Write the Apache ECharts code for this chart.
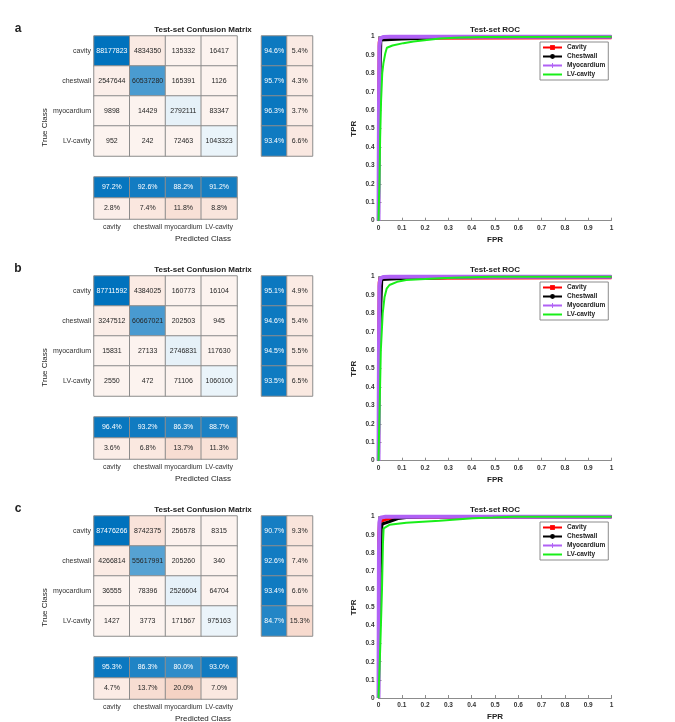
<!DOCTYPE html>
<html><head><meta charset="utf-8">
<script src="https://cdn.jsdelivr.net/npm/echarts@6/dist/echarts.min.js"></script>
<style>html,body{margin:0;padding:0;background:#fff}#c{width:675px;height:722px}</style>
</head><body><div id="c"></div>
<script>
// ---------- data ----------
const classNames = ['cavity', 'chestwall', 'myocardium', 'LV-cavity'];
const rocNames = ['Cavity', 'Chestwall', 'Myocardium', 'LV-cavity'];
const panelLetters = ['a', 'b', 'c'];
const summaryCols = ['correct', 'wrong'];

const cmA = [[88177823, 4834350, 135332, 16417], [2547644, 60537280, 165391, 1126], [9898, 14429, 2792111, 83347], [952, 242, 72463, 1043323]];
const rowCorrectA = [94.6, 95.7, 96.3, 93.4];
const rowWrongA = [5.4, 4.3, 3.7, 6.6];
const colCorrectA = [97.2, 92.6, 88.2, 91.2];
const colWrongA = [2.8, 7.4, 11.8, 8.8];

const cmB = [[87711592, 4384025, 160773, 16104], [3247512, 60667021, 202503, 945], [15831, 27133, 2746831, 117630], [2550, 472, 71106, 1060100]];
const rowCorrectB = [95.1, 94.6, 94.5, 93.5];
const rowWrongB = [4.9, 5.4, 5.5, 6.5];
const colCorrectB = [96.4, 93.2, 86.3, 88.7];
const colWrongB = [3.6, 6.8, 13.7, 11.3];

const cmC = [[87476266, 8742375, 256578, 8315], [4266814, 55617991, 205260, 340], [36555, 78396, 2526604, 64704], [1427, 3773, 171567, 975163]];
const rowCorrectC = [90.7, 92.6, 93.4, 84.7];
const rowWrongC = [9.3, 7.4, 6.6, 15.3];
const colCorrectC = [95.3, 86.3, 80.0, 93.0];
const colWrongC = [4.7, 13.7, 20.0, 7.0];

// ROC curves [FPR, TPR]
const rocA_cavity = [[0, 0], [0.001, 0.7], [0.003, 0.97], [0.006, 0.99], [0.1, 0.992], [1, 0.994]];
const rocA_chestwall = [[0, 0], [0.003, 0.6], [0.01, 0.982], [0.1, 0.987], [0.2, 0.992], [0.26, 0.997], [0.4, 1], [1, 1]];
const rocA_myocardium = [[0, 0], [0.002, 0.6], [0.004, 0.95], [0.008, 0.99], [0.02, 0.998], [0.05, 1], [1, 1]];
const rocA_lv = [[0, 0], [0.004, 0.2], [0.007, 0.45], [0.011, 0.65], [0.016, 0.8], [0.021, 0.855], [0.029, 0.909], [0.036, 0.94], [0.06, 0.952], [0.107, 0.965], [0.15, 0.974], [0.207, 0.982], [0.264, 0.99], [0.35, 0.995], [0.45, 0.999], [1, 1]];

const rocB_cavity = [[0, 0], [0.001, 0.7], [0.003, 0.97], [0.006, 0.99], [0.1, 0.992], [1, 0.994]];
const rocB_chestwall = [[0, 0], [0.003, 0.6], [0.014, 0.985], [0.1, 0.99], [0.3, 0.996], [0.5, 1], [1, 1]];
const rocB_myocardium = [[0, 0], [0.002, 0.6], [0.004, 0.95], [0.008, 0.99], [0.02, 0.998], [0.05, 1], [1, 1]];
const rocB_lv = [[0, 0], [0.005, 0.3], [0.01, 0.6], [0.018, 0.8], [0.026, 0.89], [0.035, 0.935], [0.047, 0.955], [0.08, 0.972], [0.119, 0.982], [0.2, 0.987], [0.262, 0.991], [0.35, 0.995], [0.49, 1], [1, 1]];

const rocC_cavity = [[0, 0], [0.001, 0.9], [0.004, 0.97], [0.03, 0.985], [0.08, 0.996], [1, 0.998]];
const rocC_chestwall = [[0, 0], [0.004, 0.5], [0.012, 0.93], [0.016, 0.96], [0.047, 0.973], [0.083, 0.99], [0.119, 0.996], [0.2, 1], [1, 1]];
const rocC_myocardium = [[0, 0], [0.002, 0.8], [0.004, 0.97], [0.008, 0.995], [0.03, 1], [1, 1]];
const rocC_lv = [[0, 0], [0.008, 0.3], [0.015, 0.6], [0.019, 0.85], [0.022, 0.936], [0.047, 0.955], [0.119, 0.967], [0.262, 0.978], [0.405, 0.991], [0.49, 0.995], [0.58, 1], [1, 1]];

// ---------- styling / assembly ----------
const FONT = '"Liberation Sans", Arial, Helvetica, sans-serif';
const BLUE = [0, 114, 189], ORANGE = [217, 83, 25];
function mix(c, t) {
  const r = Math.round(255 + (c[0] - 255) * t), g = Math.round(255 + (c[1] - 255) * t), b = Math.round(255 + (c[2] - 255) * t);
  return 'rgb(' + r + ',' + g + ',' + b + ')';
}
const rocColors = ['#ff0000', '#000000', '#b061f5', '#19ee19'];
const rocWidths = [3, 3, 4, 2];
const rocSymbols = ['rect', 'circle', 'path://M4,0L6,0L6,4L10,4L10,6L6,6L6,10L4,10L4,6L0,6L0,4L4,4Z', 'none'];

const panels = [
  { cm: cmA, rowOk: rowCorrectA, rowBad: rowWrongA, colOk: colCorrectA, colBad: colWrongA, roc: [rocA_cavity, rocA_chestwall, rocA_myocardium, rocA_lv] },
  { cm: cmB, rowOk: rowCorrectB, rowBad: rowWrongB, colOk: colCorrectB, colBad: colWrongB, roc: [rocB_cavity, rocB_chestwall, rocB_myocardium, rocB_lv] },
  { cm: cmC, rowOk: rowCorrectC, rowBad: rowWrongC, colOk: colCorrectC, colBad: colWrongC, roc: [rocC_cavity, rocC_chestwall, rocC_myocardium, rocC_lv] }
];

const grid = [], xAxis = [], yAxis = [], series = [], graphic = [], legend = [];
const hidden = { axisLine: { show: false }, axisTick: { show: false }, axisLabel: { show: false }, splitLine: { show: false } };
const cellStyle = { borderColor: '#8c8c8c', borderWidth: 1 };
function pctCell(x, y, v, base, isBlue) {
  const t = 0.07 + 0.93 * v / 100;
  return { value: [x, y, v], itemStyle: { color: mix(base, t) }, label: { color: isBlue && t > 0.75 ? '#fff' : '#262626' } };
}
function heat(gi, data, fmt) {
  return { type: 'heatmap', xAxisIndex: gi, yAxisIndex: gi, data, itemStyle: cellStyle, emphasis: { disabled: true },
    label: { show: true, fontSize: 7, fontFamily: FONT, formatter: fmt } };
}
function txt(x, y, text, size, bold, rot) {
  const el = { type: 'text', x: x, y: y, silent: true,
    style: { text: text, fontSize: size, fontWeight: bold ? 'bold' : 'normal', fontFamily: FONT, fill: '#222',
      align: 'center', verticalAlign: 'middle', textAlign: 'center', textVerticalAlign: 'middle' } };
  if (rot) el.rotation = rot;
  return el;
}
const legendData = rocNames.map((n, k) => rocSymbols[k] === 'none'
  ? { name: n, itemStyle: { color: 'rgba(0,0,0,0)', borderWidth: 0 } }
  : { name: n });

panels.forEach((p, i) => {
  const dy = i * 240;
  // main matrix
  let gi = grid.length;
  grid.push({ left: 94, top: 36 + dy, width: 143, height: 120 });
  xAxis.push(Object.assign({ type: 'category', gridIndex: gi, data: classNames }, hidden));
  yAxis.push(Object.assign({}, hidden, { type: 'category', gridIndex: gi, data: classNames, inverse: true,
    axisLabel: { show: true, fontSize: 7, color: '#333', margin: 3, fontFamily: FONT } }));
  const maxV = Math.max(...p.cm.flat());
  const data = [];
  p.cm.forEach((row, r) => row.forEach((v, c) => {
    const t = 0.07 + 0.93 * v / maxV;
    const diag = r === c;
    data.push({ value: [c, r, v], itemStyle: { color: mix(diag ? BLUE : ORANGE, t) }, label: { color: diag && t > 0.75 ? '#fff' : '#262626' } });
  }));
  series.push(heat(gi, data, d => String(d.value[2])));

  // row summary
  gi = grid.length;
  grid.push({ left: 261.5, top: 36 + dy, width: 51, height: 120 });
  xAxis.push(Object.assign({ type: 'category', gridIndex: gi, data: summaryCols }, hidden));
  yAxis.push(Object.assign({ type: 'category', gridIndex: gi, data: classNames, inverse: true }, hidden));
  const rdata = [];
  p.rowOk.forEach((v, r) => rdata.push(pctCell(0, r, v, BLUE, true)));
  p.rowBad.forEach((v, r) => rdata.push(pctCell(1, r, v, ORANGE, false)));
  series.push(heat(gi, rdata, d => d.value[2].toFixed(1) + '%'));

  // column summary
  gi = grid.length;
  grid.push({ left: 94, top: 177 + dy, width: 143, height: 42 });
  xAxis.push(Object.assign({}, hidden, { type: 'category', gridIndex: gi, data: classNames,
    axisLabel: { show: true, fontSize: 7, color: '#333', margin: 5, fontFamily: FONT, interval: 0 } }));
  yAxis.push(Object.assign({ type: 'category', gridIndex: gi, data: summaryCols, inverse: true }, hidden));
  const cdata = [];
  p.colOk.forEach((v, c) => cdata.push(pctCell(c, 0, v, BLUE, true)));
  p.colBad.forEach((v, c) => cdata.push(pctCell(c, 1, v, ORANGE, false)));
  series.push(heat(gi, cdata, d => d.value[2].toFixed(1) + '%'));

  // ROC
  gi = grid.length;
  grid.push({ left: 378.5, top: 36.7 + dy, width: 233, height: 184 });
  const axCommon = {
    type: 'value', gridIndex: gi, min: 0, max: 1, interval: 0.1,
    axisLine: { show: true, onZero: false, lineStyle: { color: '#8c8c8c', width: 1 } },
    axisTick: { show: true, inside: true, length: 3, lineStyle: { color: '#8c8c8c' } },
    splitLine: { show: false },
    nameLocation: 'middle',
    nameTextStyle: { fontSize: 8, fontWeight: 'bold', color: '#222', fontFamily: FONT }
  };
  xAxis.push(Object.assign({}, axCommon, { name: 'FPR', nameGap: 15,
    axisLabel: { fontSize: 6.5, fontWeight: 'bold', color: '#333', margin: 4, fontFamily: FONT } }));
  yAxis.push(Object.assign({}, axCommon, { name: 'TPR', nameGap: 21,
    axisLabel: { fontSize: 6.5, fontWeight: 'bold', color: '#333', margin: 4, fontFamily: FONT } }));
  p.roc.forEach((curve, k) => {
    series.push({ type: 'line', name: rocNames[k], xAxisIndex: gi, yAxisIndex: gi, data: curve,
      symbol: rocSymbols[k], symbolSize: 5, showSymbol: false, clip: false, smooth: false,
      lineStyle: { color: rocColors[k], width: rocWidths[k] }, itemStyle: { color: rocColors[k] },
      emphasis: { disabled: true } });
  });
  legend.push({ orient: 'vertical', left: 540, top: 42 + dy, itemWidth: 19, itemHeight: 6, itemGap: 2,
    padding: [2, 3, 2, 2], borderColor: '#8c8c8c', borderWidth: 1, backgroundColor: '#fff', selectedMode: false,
    textStyle: { fontSize: 6.5, fontWeight: 'bold', color: '#222', fontFamily: FONT },
    data: legendData, z: 10 });

  // text
  graphic.push(txt(18, 29 + dy, panelLetters[i], 12, true));
  graphic.push(txt(203, 30 + dy, 'Test-set Confusion Matrix', 8, true));
  graphic.push(txt(203, 238.5 + dy, 'Predicted Class', 8, false));
  graphic.push(txt(45, 127.5 + dy, 'True Class', 8, false, Math.PI / 2));
  graphic.push(txt(495, 30 + dy, 'Test-set ROC', 8, true));
});

const chart = echarts.init(document.getElementById('c'), null, { renderer: 'canvas' });
chart.setOption({ animation: false, backgroundColor: '#fff', grid, xAxis, yAxis, series, legend, graphic, tooltip: { show: false } });
</script></body></html>
